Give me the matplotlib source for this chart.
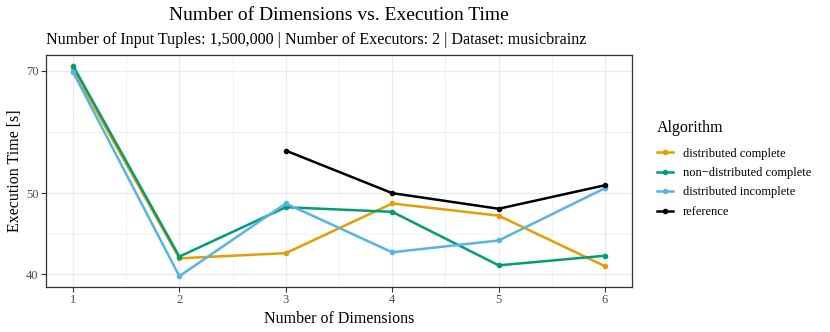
import numpy as np
import matplotlib
matplotlib.use("Agg")
import matplotlib.pyplot as plt
from matplotlib.lines import Line2D

plt.rcParams['font.family'] = ['Liberation Serif', 'DejaVu Serif']

dims = [1, 2, 3, 4, 5, 6]
dist_complete = [70.3, 41.8, 42.4, 48.6, 47.0, 40.9]
nondist_complete = [71.0, 42.0, 48.1, 47.5, 41.0, 42.1]
dist_incomplete = [69.8, 39.8, 48.6, 42.5, 43.9, 50.7]
ref_dims = [3, 4, 5, 6]
reference = [56.2, 50.0, 47.9, 51.1]

labels = ["distributed complete", "non\u2212distributed complete", "distributed incomplete", "reference"]
colors = ["#E69F00", "#009E73", "#56B4E9", "#000000"]
yticks = [40, 50, 70]
xticks = [1, 2, 3, 4, 5, 6]

fig = plt.figure(figsize=(8.3, 3.32), dpi=100)
W, H = 830, 332
ax = fig.add_axes([46.3 / W, 1 - 286.7 / H, (631.7 - 46.3) / W, (286.7 - 55) / H])

series = [(dims, dist_complete), (dims, nondist_complete), (dims, dist_incomplete), (ref_dims, reference)]
for (xs, ys), c, lab in zip(series, colors, labels):
    ax.plot(xs, ys, color=c, lw=1.8, marker='o', ms=3.0, label=lab, solid_capstyle='butt', zorder=3)

ax.set_yscale('log')
allv = np.array(dist_complete + nondist_complete + dist_incomplete + reference)
lo, hi = np.log10(allv.min()), np.log10(allv.max())
pad = (hi - lo) * 0.05
ax.set_ylim(10 ** (lo - pad), 10 ** (hi + pad))
ax.set_xlim(0.75, 6.25)

ax.set_yticks(yticks)
ax.set_yticklabels([str(t) for t in yticks])
ax.yaxis.set_minor_locator(matplotlib.ticker.FixedLocator(
    [np.sqrt(yticks[i] * yticks[i + 1]) for i in range(len(yticks) - 1)]))
ax.yaxis.set_minor_formatter(matplotlib.ticker.NullFormatter())
ax.set_xticks(xticks)
ax.set_xticks([x + 0.5 for x in xticks[:-1]], minor=True)

ax.grid(True, which='major', color='#EBEBEB', lw=1.0, zorder=0)
ax.grid(True, which='minor', color='#EBEBEB', lw=0.5, zorder=0)
ax.set_axisbelow(True)
ax.tick_params(which='major', length=3.5, width=0.8, color='#333333', labelsize=9, labelcolor='#4D4D4D', pad=2)
ax.tick_params(which='minor', length=0)
for s in ax.spines.values():
    s.set_color('#333333')
    s.set_linewidth(0.9)

ax.set_xlabel("Number of Dimensions", fontsize=11.5, labelpad=3)
ax.set_ylabel("Execution Time [s]", fontsize=11.5, labelpad=2)

fig.text((46.3 + 631.7) / 2 / W, 1 - 16 / H, "Number of Dimensions vs. Execution Time",
         ha='center', va='center', fontsize=14)
fig.text(46.3 / W, 1 - 40 / H,
         "Number of Input Tuples: 1,500,000 | Number of Executors: 2 | Dataset: musicbrainz",
         ha='left', va='center', fontsize=11.6)

fig.text(657 / W, 1 - 128 / H, "Algorithm", ha='left', va='center', fontsize=11.5)
handles = [Line2D([0], [0], color=c, lw=1.8, marker='o', ms=3.0) for c in colors]
leg = fig.legend(handles, labels, loc='upper left',
                 bbox_to_anchor=(657 / W, 1 - 147.5 / H), frameon=False, borderaxespad=0,
                 borderpad=0, fontsize=9, handlelength=1.3, handletextpad=0.75,
                 labelspacing=0.6)

fig.savefig("out.png", dpi=100)
